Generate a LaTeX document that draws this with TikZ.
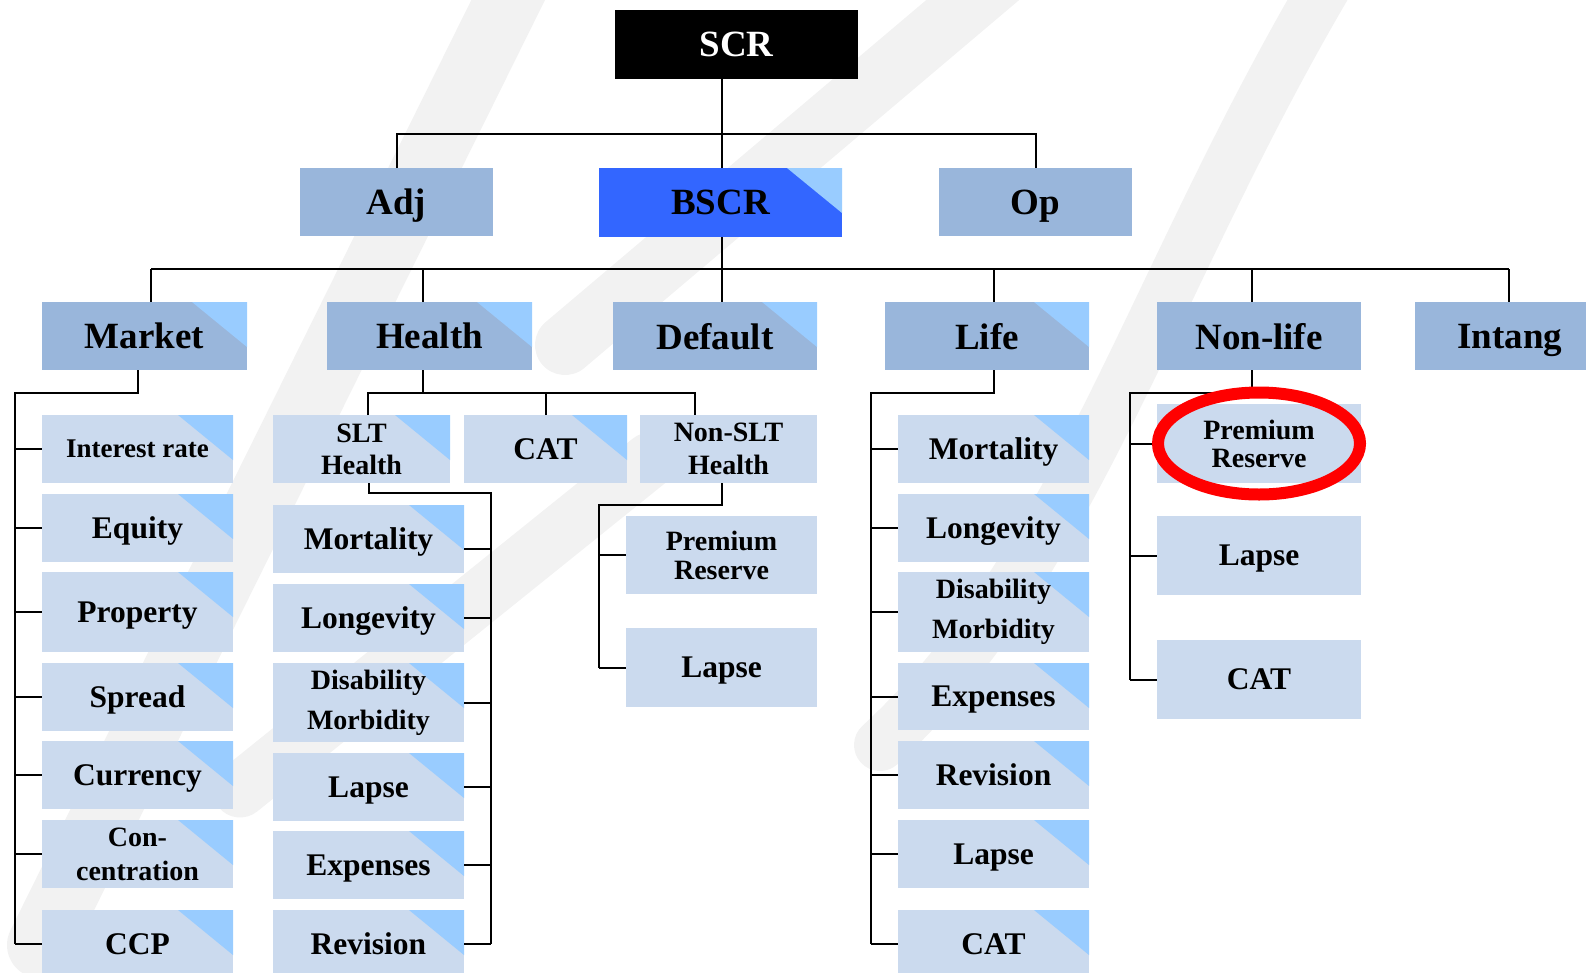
\documentclass[tikz,border=0pt]{standalone}
\usepackage{fontspec}
\setmainfont{Liberation Serif}
\definecolor{topblue}{RGB}{153,182,219}
\definecolor{subblue}{RGB}{203,218,238}
\definecolor{cornerblue}{RGB}{153,204,255}
\definecolor{bscrblue}{RGB}{51,102,255}
\definecolor{markgray}{RGB}{242,242,242}

\begin{document}
\begin{tikzpicture}[x=1pt,y=-1pt,
    box/.style={inner sep=0pt,outer sep=0pt,text depth=0pt,font=\bfseries\fontsize{31.5}{36}\selectfont},
    head/.style={box,fill=topblue,minimum height=68pt,font=\bfseries\fontsize{37}{40}\selectfont},
    leaf/.style={box,fill=subblue},
    corner/.style={path picture={\fill[cornerblue] (path picture bounding box.north east) -- ++(-55pt,0pt) -- ++(55pt,-45pt) -- cycle;}},
    two/.style={text depth={},align=center,font=\bfseries\fontsize{28}{#1}\selectfont},
    two/.default=32,
    mleaf/.style={leaf,corner,minimum width=191pt,minimum height=68pt},
    nleaf/.style={leaf,minimum width=204pt,minimum height=79pt},
    link/.style={line width=2pt}]
    \useasboundingbox (0,0) rectangle (1586,972);

    % watermark
    \begin{scope}[markgray,line cap=round]
        \draw[line width=66pt] (528,-40) -- (40,945);
        \draw[line width=60pt] (1020,-40) -- (565,345);
        \draw[line width=55pt] (650,460) -- (240,790);
        \draw[line width=52pt] (1335,-30) .. controls (1150,280) and (1080,560) .. (880,745);
    \end{scope}

    % top levels
    \node[head,minimum width=243pt,minimum height=69pt,fill=black,text=white] (scr) at (736.5,44.5) {SCR};
    \node[head,minimum width=193pt] (adj) at (396.5,202) {Adj};
    \node[head,corner,minimum width=243pt,minimum height=69pt,fill=bscrblue] (bscr) at (720.5,202.5) {BSCR};
    \node[head,minimum width=193pt] (op) at (1035.5,202) {Op};

    \node[head,corner,minimum width=205pt] (market) at (144.5,336) {Market};
    \node[head,corner,minimum width=205pt] (health) at (429.5,336) {Health};
    \node[head,corner,minimum width=204pt] (default) at (715,336) {Default};
    \node[head,corner,minimum width=204pt] (life) at (987,336) {Life};
    \node[head,minimum width=204pt] (nonlife) at (1259,336) {Non-life};
    \node[head,minimum width=190pt] (intang) at (1510,336) {Intang};

    % market modules
    \node[mleaf,font=\bfseries\fontsize{27}{30}\selectfont] (irate) at (137.5,449) {Interest rate};
    \node[mleaf] (equity) at (137.5,528) {Equity};
    \node[mleaf,minimum height=80pt] (property) at (137.5,612) {Property};
    \node[mleaf] (spread) at (137.5,697) {Spread};
    \node[mleaf] (currency) at (137.5,775) {Currency};
    \node[mleaf,two=34] (conc) at (137.5,854) {Con-\\centration};
    \node[mleaf] (ccp) at (137.5,944) {CCP};

    % health modules
    \node[leaf,corner,two,minimum width=177pt,minimum height=68pt] (slt) at (361.5,449) {SLT\\Health};
    \node[leaf,corner,minimum width=163pt,minimum height=68pt] (hcat) at (545.5,449) {CAT};
    \node[leaf,two=33,minimum width=177pt,minimum height=68pt] (nslt) at (728.5,449) {Non-SLT\\Health};
    \node[mleaf] (hmort) at (368.5,539) {Mortality};
    \node[mleaf] (hlong) at (368.5,618) {Longevity};
    \node[mleaf,two=40,minimum height=79pt] (hdis) at (368.5,702.5) {Disability\\Morbidity};
    \node[mleaf] (hlapse) at (368.5,787) {Lapse};
    \node[mleaf] (hexp) at (368.5,865) {Expenses};
    \node[mleaf] (hrev) at (368.5,944) {Revision};
    \node[leaf,two=29,minimum width=191pt,minimum height=78pt] (nprem) at (721.5,555) {Premium\\Reserve};
    \node[leaf,minimum width=191pt,minimum height=79pt] (nlapse) at (721.5,667.5) {Lapse};

    % life modules
    \node[mleaf] (lmort) at (993.5,449) {Mortality};
    \node[mleaf] (llong) at (993.5,528) {Longevity};
    \node[mleaf,two=40,minimum height=80pt] (ldis) at (993.5,612) {Disability\\Morbidity};
    \node[mleaf,minimum height=67pt] (lexp) at (993.5,696.5) {Expenses};
    \node[mleaf] (lrev) at (993.5,775) {Revision};
    \node[mleaf] (llapse) at (993.5,854) {Lapse};
    \node[mleaf] (lcat) at (993.5,944) {CAT};

    % non-life modules
    \node[nleaf,two=28] (nlprem) at (1259,443.5) {Premium\\Reserve};
    \node[nleaf] (nllapse) at (1259,555.5) {Lapse};
    \node[nleaf] (nlcat) at (1259,679.5) {CAT};

    % joints
    \coordinate (lvl1) at (0,134);
    \coordinate (jmkt) at (151,269);
    \coordinate (jhlt) at (423,269);
    \coordinate (jdef) at (722,269);
    \coordinate (jlif) at (994,269);
    \coordinate (jnon) at (1252,269);
    \coordinate (jint) at (1509,269);
    \coordinate (mrail) at (15,393);
    \coordinate (hsub) at (423,393);
    \coordinate (jslt) at (368,393);
    \coordinate (jnslt) at (695,393);
    \coordinate (hrail) at (491,493);
    \coordinate (hmortjoin) at (491,549);
    \coordinate (nrail) at (599,505);
    \coordinate (lrail) at (871,393);
    \coordinate (nlsub) at (1252,393);
    \coordinate (nlrail) at (1130,393);

    % SCR tree
    \draw[link] (scr.south -| jdef) -- (bscr.north -| jdef);
    \draw[link] (adj.north) |- (jdef |- lvl1) -| (op.north);
    \draw[link] (bscr.south -| jdef) -- (jdef);
    \draw[link] (jmkt) -- (jint);
    \foreach \j/\n in {jmkt/market,jhlt/health,jdef/default,jlif/life,jnon/nonlife,jint/intang}
        \draw[link] (\j) -- (\j |- \n.north);

    % market
    \draw[link] (market.south -| equity) |- (mrail) -- (mrail |- ccp.west);
    \foreach \n in {irate,equity,property,spread,currency,conc,ccp}
        \draw[link] (mrail |- \n.west) -- (\n.west);

    % health
    \draw[link] (hsub |- health.south) -- (hsub);
    \draw[link] (jslt |- slt.north) -- (jslt) -- (jnslt) -- (jnslt |- nslt.north);
    \draw[link] (hcat.north) -- (hcat.north |- hsub);
    \draw[link] (slt.south -| hmort) |- (hrail) -- (hrail |- hrev.east);
    \draw[link] (hmortjoin -| hmort.east) -- (hmortjoin);
    \foreach \n in {hlong,hdis,hlapse,hexp,hrev}
        \draw[link] (\n.east) -- (hrail |- \n.east);
    \draw[link] (nslt.south -| nprem) |- (nrail) -- (nrail |- nlapse.west);
    \foreach \n in {nprem,nlapse}
        \draw[link] (nrail |- \n.west) -- (\n.west);

    % life
    \draw[link] (life.south -| lmort) |- (lrail) -- (lrail |- lcat.west);
    \foreach \n in {lmort,llong,ldis,lexp,lrev,llapse,lcat}
        \draw[link] (lrail |- \n.west) -- (\n.west);

    % non-life
    \draw[link] (nlsub |- nonlife.south) -- (nlsub) -- (nlrail) -- (nlrail |- nlcat.west);
    \foreach \n in {nlprem,nllapse,nlcat}
        \draw[link] (nlrail |- \n.west) -- (\n.west);

    \draw[red,line width=12pt] (nlprem.center) ellipse [x radius=101pt,y radius=51pt];
\end{tikzpicture}
\end{document}
